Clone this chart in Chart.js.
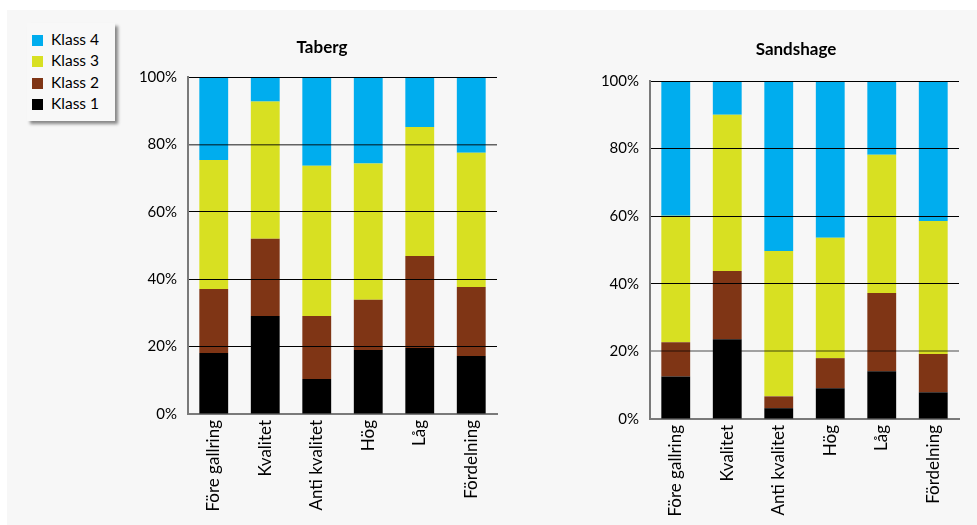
<!DOCTYPE html>
<html>
<head>
<meta charset="utf-8">
<script src="https://cdn.jsdelivr.net/npm/chart.js@4.4.1/dist/chart.umd.min.js"></script>
<style>
  body { margin: 0; background: #fff; width: 977px; height: 525px; overflow: hidden; font-family: Lato, "DejaVu Sans", sans-serif; }
  .panel { position: absolute; left: 7px; top: 10px; right: 0; bottom: 0; background: #f7f7f7; }
  .plot { position: absolute; top: 30px; width: 400px; height: 495px; }
  #taberg { left: 110px; }
  #sandshage { left: 570px; }
  .legend {
    position: absolute; left: 27px; top: 23px; width: 88px; height: 98px;
    background: #f8f8f8; box-sizing: border-box; padding: 6px 0 0 5px;
    box-shadow: 3px 3px 3px rgba(0,0,0,0.45);
  }
  .legend div { height: 21.3px; font-size: 15.5px; line-height: 21px; color: #000; white-space: nowrap; }
  .legend span { display: inline-block; width: 11px; height: 11px; margin-right: 8px; vertical-align: -1px; }
</style>
</head>
<body>
<div class="panel"></div>
<div class="legend" id="legend"></div>
<canvas id="taberg" class="plot" width="400" height="495"></canvas>
<canvas id="sandshage" class="plot" width="400" height="495"></canvas>
<script>
const categories = ['Före gallring', 'Kvalitet', 'Anti kvalitet', 'Hög', 'Låg', 'Fördelning'];
const classNames = ['Klass 1', 'Klass 2', 'Klass 3', 'Klass 4'];
const classColors = ['#000000', '#7f3515', '#d8e022', '#00adee'];
const yTicks = [0, 20, 40, 60, 80, 100];

// share of each class in percent, per treatment
const tabergK1 = [18.1, 29.1, 10.4, 19.0, 19.6, 17.2];
const tabergK2 = [19.0, 22.9, 18.7, 14.9, 27.3, 20.5];
const tabergK3 = [38.3, 40.7, 44.6, 40.4, 38.3, 39.8];
const tabergK4 = [24.6, 7.3, 26.3, 25.7, 14.8, 22.5];

const sandK1 = [12.6, 23.6, 3.2, 9.1, 14.1, 7.9];
const sandK2 = [10.1, 20.2, 3.5, 8.9, 23.2, 11.3];
const sandK3 = [37.4, 46.2, 43.0, 35.6, 40.9, 39.4];
const sandK4 = [39.9, 10.0, 50.3, 46.4, 21.8, 41.4];

// legend, top row is the last class
const legend = document.getElementById('legend');
for (let i = classNames.length - 1; i >= 0; i--) {
  const row = document.createElement('div');
  row.innerHTML = `<span style="background:${classColors[i]}"></span>${classNames[i]}`;
  legend.appendChild(row);
}

// nudges the title sideways without touching the plot area
const titleShift = {
  id: 'titleShift',
  afterLayout(chart, args, opts) {
    const t = chart.titleBlock;
    if (t && opts.dx) {
      t.left += opts.dx;
      t.right += opts.dx;
    }
  }
};

function makeChart(id, title, series, box, softLine) {
  const datasets = series.map((values, i) => ({
    label: classNames[i],
    data: values,
    backgroundColor: classColors[i],
    barPercentage: 0.56,
    categoryPercentage: 1.0
  }));

  return new Chart(document.getElementById(id), {
    type: 'bar',
    data: { labels: categories, datasets: datasets },
    plugins: [titleShift],
    options: {
      responsive: false,
      animation: false,
      events: [],
      layout: { padding: { top: box.top, right: box.right, left: 0, bottom: 0 } },
      plugins: {
        legend: { display: false },
        tooltip: { enabled: false },
        titleShift: { dx: box.titleDx },
        title: {
          display: true,
          text: title,
          color: '#000',
          font: { family: 'Lato', size: 17, weight: 'bold', lineHeight: 1.2 },
          padding: { top: 0, bottom: box.titleGap }
        }
      },
      scales: {
        x: {
          stacked: true,
          grid: { display: false, drawTicks: false },
          border: { display: true, color: '#7a7a7a', width: 2 },
          ticks: {
            color: '#000',
            font: { family: 'Lato', size: 17 },
            minRotation: 90,
            maxRotation: 90,
            padding: 6
          },
          afterFit: s => { s.height = box.xHeight; }
        },
        y: {
          stacked: true,
          min: 0,
          max: 100,
          grid: {
            z: 1,
            drawTicks: false,
            lineWidth: ctx => (ctx.tick && ctx.tick.value === softLine.value ? softLine.width : 1),
            color: ctx => {
              if (!ctx.tick || ctx.tick.value === 0) return 'rgba(0,0,0,0)';
              if (ctx.tick.value === softLine.value) return softLine.color;
              return '#000';
            }
          },
          border: { display: true, color: '#7a7a7a', width: 2, z: 1 },
          afterBuildTicks: s => { s.ticks = yTicks.map(v => ({ value: v })); },
          ticks: {
            color: '#000',
            font: { family: 'Lato', size: 15 },
            padding: 11,
            callback: v => v + '%'
          },
          afterFit: s => { s.width = box.yWidth; }
        }
      }
    }
  });
}

makeChart('taberg', 'Taberg', [tabergK1, tabergK2, tabergK3, tabergK4],
  { top: 7, right: 13, titleDx: 18.5, titleGap: 19.6, xHeight: 111, yWidth: 78 },
  { value: 80, width: 1.5, color: 'rgba(0,0,0,0.6)' });

makeChart('sandshage', 'Sandshage', [sandK1, sandK2, sandK3, sandK4],
  { top: 9, right: 11, titleDx: 31.5, titleGap: 21.6, xHeight: 106, yWidth: 80 },
  { value: 20, width: 2, color: 'rgba(0,0,0,0.35)' });
</script>
</body>
</html>
